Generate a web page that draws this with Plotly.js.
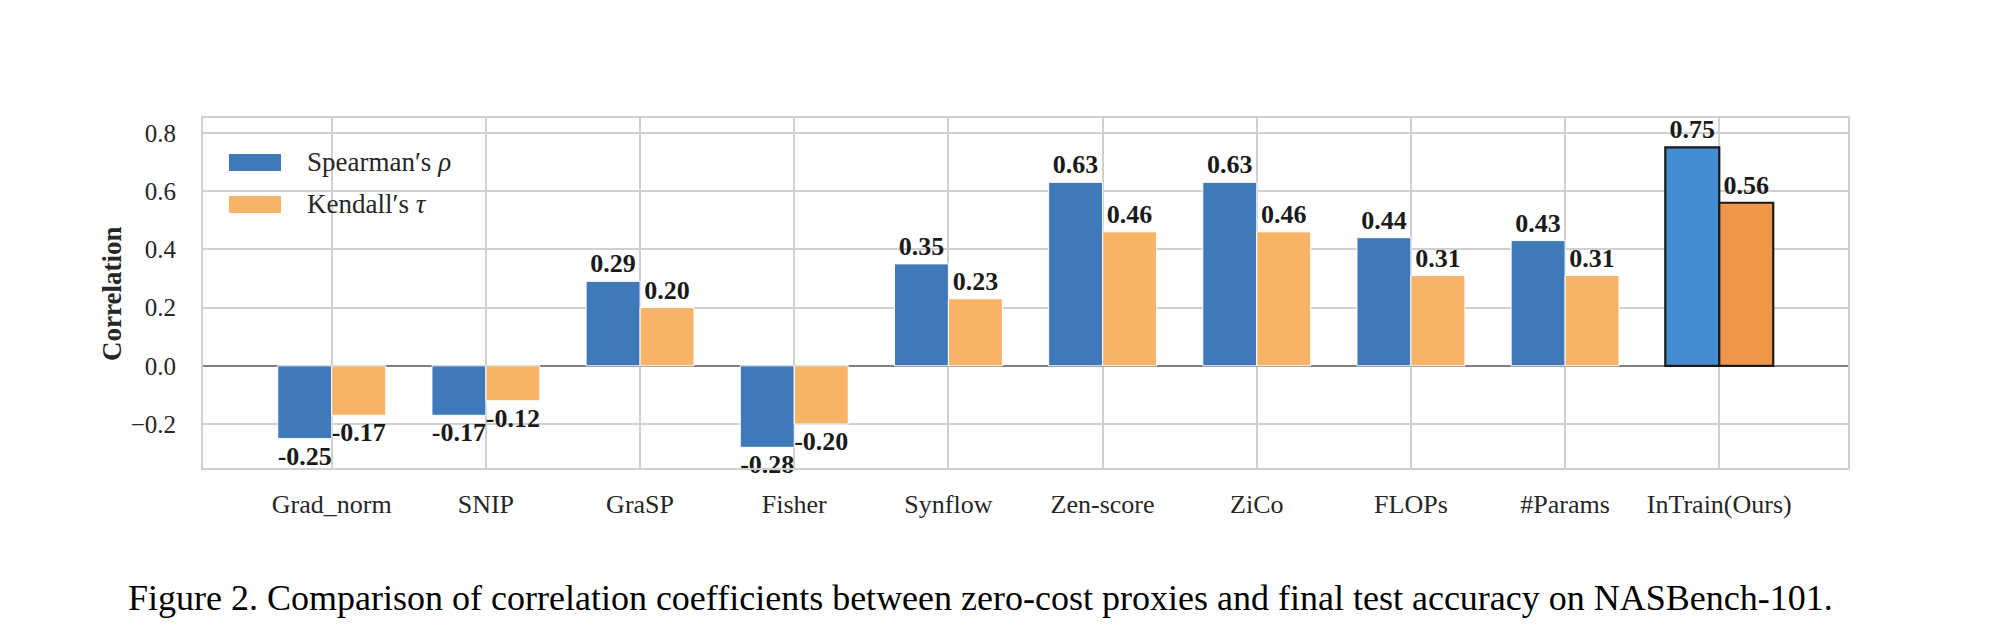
<!DOCTYPE html>
<html>
<head>
<meta charset="utf-8">
<script src="https://cdn.plot.ly/plotly-3.0.1.min.js"></script>
<style>
html,body{margin:0;padding:0;background:#fff;}
#chart{width:2013px;height:639px;}
</style>
</head>
<body>
<div id="chart"></div>
<script>
// ---- data ----
const categories = ["Grad_norm","SNIP","GraSP","Fisher","Synflow","Zen-score","ZiCo","FLOPs","#Params","InTrain(Ours)"];
const spearman = [-0.25,-0.17,0.29,-0.28,0.35,0.63,0.63,0.44,0.43,0.75];
const kendall  = [-0.17,-0.12,0.20,-0.20,0.23,0.46,0.46,0.31,0.31,0.56];
const seriesNames = ["Spearman\u2032s <i>\u03c1</i>", "Kendall\u2032s <i>\u03c4</i>"];
const caption = "Figure 2. Comparison of correlation coefficients between zero-cost proxies and final test accuracy on NASBench-101.";
const yTicks = [-0.2, 0.0, 0.2, 0.4, 0.6, 0.8];
const oursIndex = 9;

// ---- styles ----
const blue = "#3f79b9", orange = "#f5b467";
const blueOurs = "#458dd2", orangeOurs = "#ef974b";
const serif = "Liberation Serif, Times New Roman, serif";
const textCol = "#1a1a1a";

function colorsFor(base, ours){ return categories.map((c,i)=> i===oursIndex ? ours : base); }
function edgeCol(){ return categories.map((c,i)=> i===oursIndex ? "#1a1a1a" : "#ffffff"); }
function edgeW(){ return categories.map((c,i)=> i===oursIndex ? 2.2 : 1); }
const xs = categories.map((c,i)=>i);

const common = {
  type: "bar",
  x: xs,
  width: 0.35,
  textposition: "outside",
  cliponaxis: false,
  constraintext: "none",
  textfont: {family: serif, size: 26, color: textCol, weight: "bold"},
  hoverinfo: "skip",
  showlegend: false
};

const traces = [
  Object.assign({}, common, {
    name: seriesNames[0], y: spearman, offset: -0.35,
    text: spearman.map(v=>"<b>"+v.toFixed(2)+"</b>"),
    marker: {color: colorsFor(blue, blueOurs), line: {color: edgeCol(), width: edgeW()}}
  }),
  Object.assign({}, common, {
    name: seriesNames[1], y: kendall, offset: 0,
    text: kendall.map(v=>"<b>"+v.toFixed(2)+"</b>"),
    marker: {color: colorsFor(orange, orangeOurs), line: {color: edgeCol(), width: edgeW()}}
  })
];

// plot area in px: x 203..1848, y 118..468
const W = 2013, H = 639;
const L = 203, R = W - 1848, T = 118, B = H - 468;
const pw = W - L - R, ph = H - T - B;
const px = v => (v - L) / pw;
const py = v => (H - B - v) / ph;

const layout = {
  width: W, height: H,
  margin: {l: L, r: R, t: T, b: B, pad: 0},
  paper_bgcolor: "#ffffff", plot_bgcolor: "#ffffff",
  barmode: "overlay",
  font: {family: serif, size: 26, color: "#262626"},
  xaxis: {
    range: [-0.835, 9.835],
    tickvals: xs, ticktext: categories,
    showgrid: true, gridcolor: "#d0d0d0", gridwidth: 2,
    zeroline: false,
    showline: true, mirror: true, linecolor: "#d0d0d0", linewidth: 2,
    ticks: "outside", ticklen: 12, tickcolor: "rgba(0,0,0,0)",
    tickfont: {family: serif, size: 26, color: "#262626"},
    fixedrange: true
  },
  yaxis: {
    range: [-0.351, 0.851],
    tickvals: yTicks,
    tickformat: ".1f",
    showgrid: true, gridcolor: "#d0d0d0", gridwidth: 2,
    zeroline: true, zerolinecolor: "#808080", zerolinewidth: 2.5,
    showline: true, mirror: true, linecolor: "#d0d0d0", linewidth: 2,
    ticks: "outside", ticklen: 20, tickcolor: "rgba(0,0,0,0)",
    tickfont: {family: serif, size: 25, color: "#262626"},
    fixedrange: true
  },
  shapes: [
    {type:"rect", xref:"paper", yref:"paper", x0:px(229), x1:px(281), y0:py(171), y1:py(154), fillcolor: blue, line:{width:0}},
    {type:"rect", xref:"paper", yref:"paper", x0:px(229), x1:px(281), y0:py(213), y1:py(196), fillcolor: orange, line:{width:0}}
  ],
  annotations: [
    {xref:"paper", yref:"paper", x:px(305), y:py(162), xanchor:"left", yanchor:"middle", showarrow:false,
     text: seriesNames[0], font:{family: serif, size: 27, color: "#262626"}},
    {xref:"paper", yref:"paper", x:px(305), y:py(204), xanchor:"left", yanchor:"middle", showarrow:false,
     text: seriesNames[1], font:{family: serif, size: 27, color: "#262626"}},
    {xref:"paper", yref:"paper", x:px(112), y:py(294), xanchor:"center", yanchor:"middle", showarrow:false,
     textangle:-90, text:"<b>Correlation</b>", font:{family: serif, size: 27, color: "#262626"}},
    {xref:"paper", yref:"paper", x:px(126), y:py(598), xanchor:"left", yanchor:"middle", showarrow:false,
     text: caption, font:{family: serif, size: 36, color: "#000000"}}
  ]
};

Plotly.newPlot("chart", traces, layout, {displayModeBar:false, staticPlot:true});
</script>
</body>
</html>
